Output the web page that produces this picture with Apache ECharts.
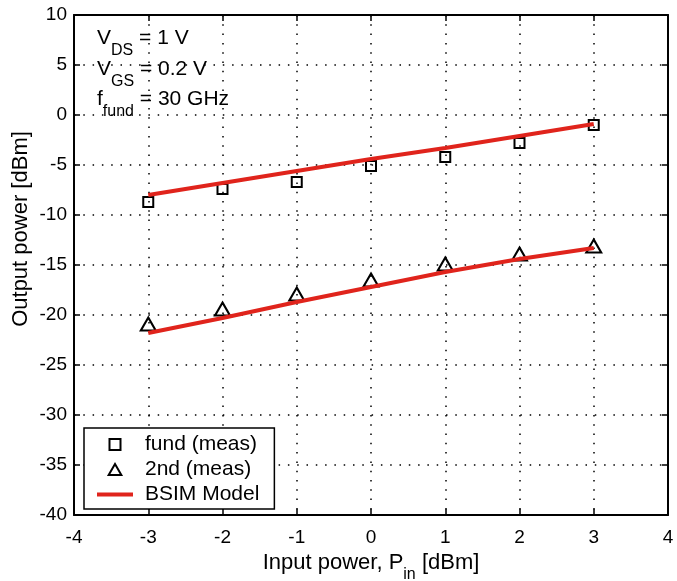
<!DOCTYPE html>
<html>
<head>
<meta charset="utf-8">
<script src="https://cdn.jsdelivr.net/npm/echarts@6/dist/echarts.min.js"></script>
<style>
  html, body { margin: 0; padding: 0; background: #fff; }
  #chart { width: 677px; height: 581px; }
</style>
</head>
<body>
<div id="chart"></div>
<script>
// Input power sweep [dBm]
const inputPower = [-3, -2, -1, 0, 1, 2, 3];
// Measured output power [dBm]
const fundMeas = [-8.7, -7.4, -6.7, -5.1, -4.2, -2.8, -1.0];
const secondMeas = [-20.9, -19.4, -17.9, -16.5, -14.9, -13.9, -13.1];
// BSIM model output power [dBm]
const fundModel = [-8.0, -6.8, -5.6, -4.4, -3.3, -2.1, -0.9];
const secondModel = [-21.8, -20.3, -18.7, -17.2, -15.7, -14.4, -13.3];

const seriesNames = ['fund (meas)', '2nd (meas)', 'BSIM Model'];
const biasLines = [
  ['V', 'DS', ' = 1 V'],
  ['V', 'GS', ' = 0.2 V'],
  ['f', 'fund', ' = 30 GHz']
];

const FONT = '"Liberation Sans", Arial, Helvetica, sans-serif';
const RED = '#e0241c';
const pairs = (ys) => inputPower.map((x, i) => [x, ys[i]]);

// Legend glyphs: outlined square, outlined triangle, short thick red bar
const ICON_SQUARE = 'path://M0,0L10,0L10,10L0,10Z';
const ICON_TRIANGLE = 'path://M0,13L7.5,0L15,13Z';
const ICON_BAR = 'path://M0,0L36,0L36,4L0,4Z';

const frameAxis = {
  axisLine: { onZero: false, lineStyle: { color: '#000', width: 2 } },
  axisTick: { inside: true, length: 6, lineStyle: { color: '#000', width: 1.5 } }
};
const gridDots = { show: true, lineStyle: { color: '#000', width: 1.5, type: [1.5, 7.8] } };
const tickFont = { fontFamily: FONT, fontSize: 19, color: '#000' };
const markerStyle = { color: 'rgba(0,0,0,0)', borderColor: '#000', borderWidth: 2, opacity: 1 };

const chart = echarts.init(document.getElementById('chart'), null, { renderer: 'canvas' });

const annotation = biasLines.map((parts, i) => ({
  type: 'text',
  left: 97,
  top: 28 + i * 30.5,
  silent: true,
  style: {
    text: '{m|' + parts[0] + '}{s|' + parts[1] + '}{m|' + parts[2] + '}',
    rich: {
      m: { fontFamily: FONT, fontSize: 21, lineHeight: 22, verticalAlign: 'top', fill: '#000' },
      s: { fontFamily: FONT, fontSize: 16, lineHeight: 46, fill: '#000' }
    }
  }
}));

chart.setOption({
  animation: false,
  backgroundColor: '#fff',
  grid: { left: 74, top: 15, width: 594, height: 500, containLabel: false, outerBoundsMode: 'none' },
  xAxis: [
    Object.assign({
      type: 'value', min: -4, max: 4, interval: 1, position: 'bottom',
      axisLabel: Object.assign({ margin: 13 }, tickFont),
      splitLine: gridDots,
      name: '{m|Input power, P}{s|in}{m| [dBm]}',
      nameLocation: 'middle',
      nameGap: 32,
      nameTextStyle: {
        rich: {
          m: { fontFamily: FONT, fontSize: 22, lineHeight: 24, verticalAlign: 'top', color: '#000' },
          s: { fontFamily: FONT, fontSize: 16, lineHeight: 46, color: '#000' }
        }
      }
    }, frameAxis),
    Object.assign({
      type: 'value', min: -4, max: 4, interval: 1, position: 'top',
      axisLabel: { show: false }, splitLine: { show: false }
    }, frameAxis)
  ],
  yAxis: [
    Object.assign({
      type: 'value', min: -40, max: 10, interval: 5, position: 'left',
      axisLabel: Object.assign({ margin: 7 }, tickFont),
      splitLine: gridDots
    }, frameAxis),
    Object.assign({
      type: 'value', min: -40, max: 10, interval: 5, position: 'right',
      axisLabel: { show: false }, splitLine: { show: false }
    }, frameAxis)
  ],
  legend: {
    orient: 'vertical',
    left: 84, top: 428,
    data: [
      { name: seriesNames[0], icon: ICON_SQUARE },
      { name: seriesNames[1], icon: ICON_TRIANGLE },
      { name: seriesNames[2], icon: ICON_BAR }
    ],
    symbolKeepAspect: true,
    itemWidth: 36, itemHeight: 11, itemGap: 4,
    padding: [6, 15, 4, 13],
    borderColor: '#000', borderWidth: 1.5, borderRadius: 0,
    backgroundColor: '#fff',
    selectedMode: false,
    textStyle: { fontFamily: FONT, fontSize: 21, lineHeight: 21, color: '#000', padding: [0, 0, 0, 7] }
  },
  graphic: annotation.concat([{
    type: 'text',
    x: 21, y: 229,
    rotation: Math.PI / 2,
    silent: true,
    style: {
      text: 'Output power [dBm]',
      font: '22px ' + FONT,
      fill: '#000',
      align: 'center',
      verticalAlign: 'middle'
    }
  }]),
  series: [
    {
      name: seriesNames[0], type: 'scatter', data: pairs(fundMeas),
      symbol: 'rect', symbolSize: 10, z: 2, silent: true,
      itemStyle: markerStyle
    },
    {
      name: seriesNames[1], type: 'scatter', data: pairs(secondMeas),
      symbol: 'triangle', symbolSize: [15, 13], z: 2, silent: true,
      itemStyle: markerStyle
    },
    {
      name: seriesNames[2], type: 'line', data: pairs(fundModel),
      symbol: 'none', z: 3, silent: true,
      lineStyle: { color: RED, width: 4 }, itemStyle: { color: RED }
    },
    {
      name: seriesNames[2], type: 'line', data: pairs(secondModel),
      symbol: 'none', z: 3, silent: true,
      lineStyle: { color: RED, width: 4 }, itemStyle: { color: RED }
    }
  ]
});
</script>
</body>
</html>
